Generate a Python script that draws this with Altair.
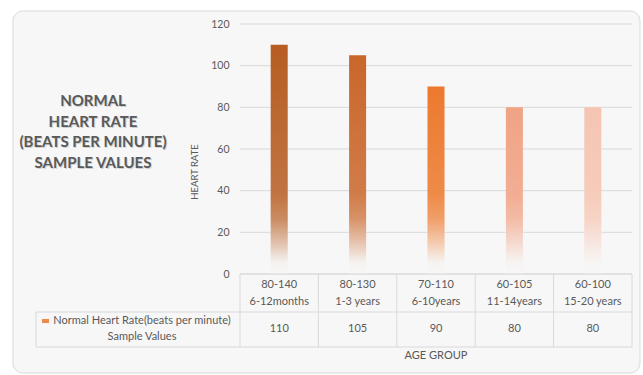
import altair as alt
import pandas as pd

# Heart-rate sample values per age group
AGE_RANGES = ["80-140", "80-130", "70-110", "60-105", "60-100"]
AGE_GROUPS = ["6-12months", "1-3 years", "6-10years", "11-14years", "15-20 years"]
HEART_RATE = [110, 105, 90, 80, 80]
Y_TICKS = [0, 20, 40, 60, 80, 100, 120]

TITLE_LINES = ["NORMAL", "HEART RATE", "(BEATS PER MINUTE)", "SAMPLE VALUES"]
SERIES_LINES = ["Normal Heart Rate(beats per minute)", "Sample Values"]
Y_TITLE = "HEART RATE"
X_TITLE = "AGE GROUP"

PALETTE = ["#b65d22", "#c9672b", "#ec7a2e", "#f0a385", "#f5c5b2"]
FONT = "Lato"
INK = "#595959"
LINE = "#d9d9d9"
PANEL = "#f7f7f7"

W, H = 392, 250

df = pd.DataFrame({
    "key": [f"{r} {g}" for r, g in zip(AGE_RANGES, AGE_GROUPS)],
    "range": AGE_RANGES,
    "group": AGE_GROUPS,
    "rate": HEART_RATE,
})
ticks = pd.DataFrame({"t": Y_TICKS})
one = pd.DataFrame({"k": [0]})

x_enc = alt.X("key:N", sort=list(df["key"]),
              scale=alt.Scale(paddingInner=0, paddingOuter=0), axis=None)
y_scale = alt.Scale(domain=[0, 120])

base = alt.Chart(df)

# rounded panel behind everything
panel = alt.Chart(one).mark_rect(
    fill=PANEL, stroke=LINE, strokeWidth=1, cornerRadius=10
).encode(x=alt.value(-227), x2=alt.value(400), y=alt.value(-13), y2=alt.value(349))

# horizontal gridlines
grid = alt.Chart(ticks).mark_rule(color=LINE, strokeWidth=1).encode(
    y=alt.Y("t:Q", scale=y_scale,
            axis=alt.Axis(values=Y_TICKS, title=None, domain=False, ticks=False,
                          grid=False, labelColor=INK, labelFont=FONT,
                          labelFontSize=10.5, labelPadding=11, zindex=1)),
    x=alt.value(0), x2=alt.value(W))

bars = base.mark_bar(width=17).encode(
    x=x_enc,
    y=alt.Y("rate:Q", scale=y_scale),
    color=alt.Color("key:N", sort=list(df["key"]),
                    scale=alt.Scale(domain=list(df["key"]), range=PALETTE), legend=None),
)

# soft lightening towards the lower part of each bar
sheen = base.mark_bar(width=17, color={
    "gradient": "linear", "x1": 0, "x2": 0, "y1": 0, "y2": 1,
    "stops": [{"offset": 0, "color": "rgba(255,255,255,0)"},
              {"offset": 1, "color": "rgba(255,255,255,0.22)"}]}
).encode(x=x_enc, y=alt.Y("rate:Q", scale=y_scale), y2=alt.datum(0))

# fade into the panel near the baseline
fade = base.mark_bar(width=19, color={
    "gradient": "linear", "x1": 0, "x2": 0, "y1": 0, "y2": 1,
    "stops": [{"offset": 0, "color": "rgba(247,247,247,0)"},
              {"offset": 0.3, "color": "rgba(247,247,247,0.15)"},
              {"offset": 0.6, "color": "rgba(247,247,247,0.55)"},
              {"offset": 0.85, "color": "rgba(247,247,247,0.95)"},
              {"offset": 1, "color": "rgba(247,247,247,1)"}]}
).encode(x=x_enc, y=alt.datum(38), y2=alt.datum(0))

# data table grid
hline_top = alt.Chart(one).mark_rule(color=LINE).encode(
    x=alt.value(0), x2=alt.value(W), y=alt.value(H))
hline_mid = alt.Chart(one).mark_rule(color=LINE).encode(
    x=alt.value(-204), x2=alt.value(W), y=alt.value(288))
hline_bot = alt.Chart(one).mark_rule(color=LINE).encode(
    x=alt.value(-204), x2=alt.value(W), y=alt.value(323))
vlines = base.mark_rule(color=LINE).encode(
    x=alt.X("key:N", sort=list(df["key"]), bandPosition=0,
            scale=alt.Scale(paddingInner=0, paddingOuter=0), axis=None),
    y=alt.value(H), y2=alt.value(323))
vline_right = alt.Chart(one).mark_rule(color=LINE).encode(
    x=alt.value(W), y=alt.value(H), y2=alt.value(323))
vline_left = alt.Chart(one).mark_rule(color=LINE).encode(
    x=alt.value(-204), y=alt.value(288), y2=alt.value(323))

cell = dict(font=FONT, fontSize=11, color=INK, align="center", baseline="middle")
row_range = base.mark_text(**cell).encode(x=x_enc, y=alt.value(261), text="range:N")
row_group = base.mark_text(**cell).encode(x=x_enc, y=alt.value(278), text="group:N")
row_value = base.mark_text(**cell).encode(x=x_enc, y=alt.value(305), text="rate:Q")

legend_swatch = alt.Chart(one).mark_rect(color="#ec8a4c").encode(
    x=alt.value(-198), x2=alt.value(-191), y=alt.value(295), y2=alt.value(299))
legend_text = alt.Chart(one).mark_text(
    text=SERIES_LINES, lineHeight=15.5, font=FONT, fontSize=11, color=INK,
    align="center", baseline="middle"
).encode(x=alt.value(-98), y=alt.value(297))

title_shadow = alt.Chart(one).mark_text(
    text=TITLE_LINES, lineHeight=20.5, font=FONT, fontSize=15, fontWeight="bold",
    color="#d2d2d2", align="center", baseline="middle", dx=1, dy=1
).encode(x=alt.value(-147), y=alt.value(77))
title = alt.Chart(one).mark_text(
    text=TITLE_LINES, lineHeight=20.5, font=FONT, fontSize=15, fontWeight="bold",
    color=INK, align="center", baseline="middle"
).encode(x=alt.value(-147), y=alt.value(77))

y_title = alt.Chart(one).mark_text(
    text=Y_TITLE, angle=270, font=FONT, fontSize=9.5, color=INK,
    align="center", baseline="middle"
).encode(x=alt.value(-45), y=alt.value(148))
x_title = alt.Chart(one).mark_text(
    text=X_TITLE, font=FONT, fontSize=11, color=INK,
    align="center", baseline="middle"
).encode(x=alt.value(W / 2), y=alt.value(332))

chart = alt.layer(
    panel, grid, bars, sheen, fade,
    hline_top, hline_mid, hline_bot, vlines, vline_right, vline_left,
    row_range, row_group, row_value, legend_swatch, legend_text,
    title_shadow, title, y_title, x_title,
).resolve_scale(color="independent").properties(
    width=W, height=H,
    autosize=alt.AutoSizeParams(type="none"),
    padding={"left": 240, "top": 24, "right": 11, "bottom": 101},
    background="white",
).configure_view(stroke=None)

chart.save("out.html", embed_options={"renderer": "svg", "actions": False})
